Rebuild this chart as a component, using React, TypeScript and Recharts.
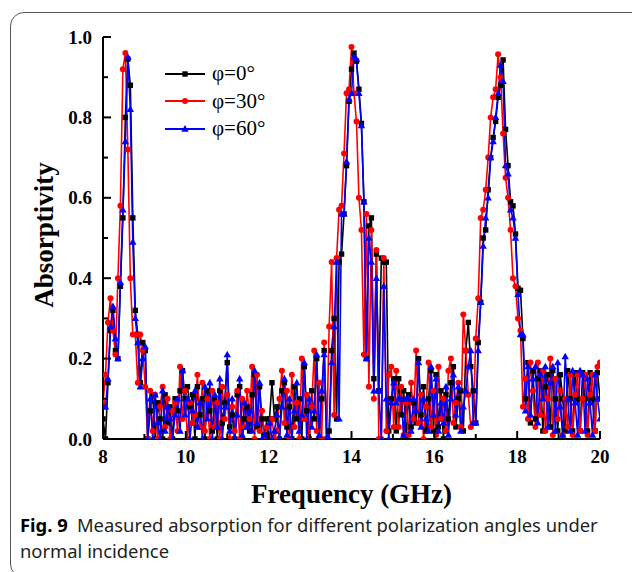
import React from 'react';
import { LineChart, Line, XAxis, YAxis, Legend } from 'recharts';

// Frequency grid (GHz): uniform sampling from 8 to 20 GHz
const FREQ_START = 8;
const FREQ_STEP = 0.06;

// Absorptivity, φ = 0°
const ABS_0 = [
  0.05, 0.00, 0.14, 0.27, 0.32, 0.22, 0.20, 0.38, 0.55, 0.80,
  0.945, 0.88, 0.55, 0.32, 0.26, 0.14, 0.24, 0.22, 0.00, 0.07,
  0.11, 0.00, 0.09, 0.05, 0.00, 0.11, 0.04, 0.08, 0.00, 0.10,
  0.07, 0.12, 0.17, 0.10, 0.13, 0.08, 0.11, 0.00, 0.13, 0.06,
  0.10, 0.00, 0.12, 0.07, 0.02, 0.10, 0.00, 0.12, 0.04, 0.09,
  0.19, 0.03, 0.06, 0.00, 0.11, 0.13, 0.00, 0.05, 0.08, 0.02,
  0.11, 0.16, 0.03, 0.13, 0.05, 0.01, 0.05, 0.05, 0.14, 0.05,
  0.08, 0.00, 0.12, 0.14, 0.03, 0.08, 0.00, 0.13, 0.05, 0.10,
  0.00, 0.18, 0.07, 0.00, 0.12, 0.05, 0.20, 0.00, 0.10, 0.22,
  0.00, 0.02, 0.22, 0.30, 0.05, 0.44, 0.46, 0.56, 0.68, 0.84,
  0.92, 0.96, 0.94, 0.87, 0.785, 0.59, 0.20, 0.53, 0.55, 0.15,
  0.46, 0.12, 0.45, 0.44, 0.44, 0.02, 0.10, 0.15, 0.02, 0.15,
  0.06, 0.12, 0.00, 0.11, 0.03, 0.09, 0.04, 0.20, 0.06, 0.13,
  0.02, 0.10, 0.17, 0.02, 0.16, 0.03, 0.12, 0.00, 0.11, 0.05,
  0.14, 0.18, 0.03, 0.10, 0.12, 0.02, 0.22, 0.29, 0.18, 0.12,
  0.04, 0.24, 0.34, 0.50, 0.52, 0.62, 0.70, 0.75, 0.79, 0.85,
  0.88, 0.943, 0.77, 0.68, 0.59, 0.58, 0.51, 0.375, 0.37, 0.25,
  0.10, 0.19, 0.04, 0.17, 0.05, 0.15, 0.17, 0.02, 0.13, 0.16,
  0.03, 0.17, 0.10, 0.02, 0.16, 0.10, 0.02, 0.17, 0.10, 0.02,
  0.165, 0.10, 0.02, 0.165, 0.10, 0.02, 0.165, 0.10, 0.02, 0.165,
  0.10,
];

// Absorptivity, φ = 30°
const ABS_30 = [
  0.09, 0.16, 0.29, 0.35, 0.27, 0.21, 0.40, 0.58, 0.92, 0.96,
  0.72, 0.40, 0.26, 0.26, 0.14, 0.26, 0.22, 0.13, 0.00, 0.12,
  0.02, 0.11, 0.00, 0.08, 0.13, 0.03, 0.10, 0.00, 0.07, 0.09,
  0.02, 0.18, 0.05, 0.12, 0.00, 0.09, 0.04, 0.06, 0.16, 0.03,
  0.14, 0.02, 0.10, 0.00, 0.12, 0.03, 0.09, 0.00, 0.13, 0.05,
  0.11, 0.00, 0.08, 0.02, 0.12, 0.00, 0.10, 0.03, 0.12, 0.05,
  0.18, 0.00, 0.16, 0.02, 0.07, 0.00, 0.03, 0.00, 0.05, 0.00,
  0.02, 0.10, 0.17, 0.04, 0.12, 0.00, 0.16, 0.03, 0.09, 0.00,
  0.20, 0.05, 0.11, 0.00, 0.08, 0.22, 0.02, 0.14, 0.00, 0.24,
  0.00, 0.28, 0.44, 0.06, 0.45, 0.57, 0.58, 0.71, 0.86, 0.87,
  0.975, 0.86, 0.79, 0.60, 0.52, 0.21, 0.56, 0.13, 0.52, 0.10,
  0.47, 0.00, 0.00, 0.45, 0.02, 0.16, 0.18, 0.03, 0.17, 0.03,
  0.13, 0.01, 0.09, 0.01, 0.14, 0.05, 0.22, 0.04, 0.11, 0.00,
  0.08, 0.19, 0.03, 0.12, 0.01, 0.18, 0.05, 0.10, 0.02, 0.17,
  0.20, 0.04, 0.09, 0.14, 0.03, 0.31, 0.22, 0.11, 0.03, 0.04,
  0.25, 0.35, 0.55, 0.57, 0.62, 0.70, 0.80, 0.85, 0.87, 0.957,
  0.90, 0.76, 0.65, 0.60, 0.52, 0.40, 0.38, 0.30, 0.27, 0.08,
  0.15, 0.05, 0.19, 0.12, 0.03, 0.19, 0.06, 0.17, 0.02, 0.10,
  0.20, 0.01, 0.15, 0.05, 0.12, 0.01, 0.10, 0.03, 0.16, 0.01,
  0.11, 0.16, 0.02, 0.10, 0.16, 0.01, 0.11, 0.16, 0.02, 0.18,
  0.19,
];

// Absorptivity, φ = 60°
const ABS_60 = [
  0.08, 0.08, 0.15, 0.28, 0.33, 0.25, 0.20, 0.39, 0.57, 0.74,
  0.95, 0.82, 0.49, 0.30, 0.24, 0.13, 0.20, 0.23, 0.00, 0.10,
  0.00, 0.11, 0.04, 0.00, 0.12, 0.02, 0.08, 0.05, 0.00, 0.06,
  0.10, 0.02, 0.17, 0.06, 0.10, 0.00, 0.07, 0.12, 0.03, 0.09,
  0.00, 0.13, 0.05, 0.14, 0.00, 0.11, 0.03, 0.15, 0.00, 0.08,
  0.21, 0.02, 0.10, 0.00, 0.06, 0.15, 0.01, 0.09, 0.03, 0.07,
  0.02, 0.17, 0.04, 0.14, 0.00, 0.01, 0.00, 0.04, 0.00, 0.02,
  0.06, 0.00, 0.08, 0.15, 0.01, 0.10, 0.00, 0.07, 0.14, 0.02,
  0.06, 0.19, 0.00, 0.10, 0.03, 0.07, 0.21, 0.01, 0.12, 0.21,
  0.00, 0.00, 0.19, 0.28, 0.44, 0.05, 0.56, 0.56, 0.69, 0.845,
  0.86, 0.95, 0.945, 0.86, 0.78, 0.59, 0.20, 0.50, 0.44, 0.12,
  0.40, 0.12, 0.00, 0.38, 0.10, 0.00, 0.09, 0.14, 0.09, 0.10,
  0.10, 0.01, 0.10, 0.10, 0.02, 0.10, 0.07, 0.19, 0.03, 0.10,
  0.05, 0.02, 0.18, 0.06, 0.15, 0.02, 0.09, 0.04, 0.13, 0.01,
  0.10, 0.16, 0.06, 0.13, 0.02, 0.08, 0.12, 0.18, 0.22, 0.04,
  0.04, 0.22, 0.34, 0.48, 0.55, 0.60, 0.70, 0.74, 0.80, 0.86,
  0.93, 0.89, 0.68, 0.66, 0.57, 0.55, 0.50, 0.36, 0.26, 0.26,
  0.07, 0.18, 0.06, 0.15, 0.18, 0.04, 0.16, 0.10, 0.18, 0.03,
  0.14, 0.18, 0.02, 0.19, 0.08, 0.01, 0.205, 0.10, 0.02, 0.17,
  0.09, 0.01, 0.17, 0.16, 0.02, 0.15, 0.09, 0.01, 0.16, 0.10,
  0.05,
];

const X_TICKS = [8, 9, 10, 11, 12, 13, 14, 15, 16, 17, 18, 19, 20];
const Y_TICKS = [0, 0.1, 0.2, 0.3, 0.4, 0.5, 0.6, 0.7, 0.8, 0.9, 1.0];
const SERIES_NAMES = ['φ=0°', 'φ=30°', 'φ=60°'];
const SERIES_COLORS = ['#000000', '#ff0000', '#0000ff'];

const data = ABS_0.map((v, i) => ({
  f: Number((FREQ_START + i * FREQ_STEP).toFixed(2)),
  a0: v,
  a30: ABS_30[i],
  a60: ABS_60[i],
}));

const SERIF = '"Liberation Serif", "Times New Roman", serif';

const SquareDot = (p: any) =>
  p.cx == null ? null : (
    <rect key={`s${p.index}`} x={p.cx - 2.7} y={p.cy - 2.7} width={5.4} height={5.4} fill={SERIES_COLORS[0]} />
  );
const CircleDot = (p: any) =>
  p.cx == null ? null : <circle key={`c${p.index}`} cx={p.cx} cy={p.cy} r={3} fill={SERIES_COLORS[1]} />;
const TriDot = (p: any) =>
  p.cx == null ? null : (
    <polygon
      key={`t${p.index}`}
      points={`${p.cx},${p.cy - 3.9} ${p.cx - 3.7},${p.cy + 2.7} ${p.cx + 3.7},${p.cy + 2.7}`}
      fill={SERIES_COLORS[2]}
    />
  );

const XTick = (p: any) => {
  const v = p.payload.value;
  const major = v % 2 === 0;
  return (
    <g>
      <line x1={p.x} x2={p.x} y1={p.y} y2={p.y - (major ? 8 : 5)} stroke="#000" strokeWidth={2} />
      {major && (
        <text x={p.x} y={p.y + 24} textAnchor="middle" fontFamily={SERIF} fontWeight="bold" fontSize={19} fill="#000">
          {v}
        </text>
      )}
    </g>
  );
};

const YTick = (p: any) => {
  const v = p.payload.value;
  const major = Math.round(v * 10) % 2 === 0;
  return (
    <g>
      <line x1={p.x} x2={p.x + (major ? 8 : 5)} y1={p.y} y2={p.y} stroke="#000" strokeWidth={2} />
      {major && (
        <text x={p.x - 11} y={p.y + 6.5} textAnchor="end" fontFamily={SERIF} fontWeight="bold" fontSize={19} fill="#000">
          {v.toFixed(1)}
        </text>
      )}
    </g>
  );
};

const XTitle = (props: any) => {
  const vb = props.viewBox;
  return (
    <text
      x={vb.x + vb.width / 2}
      y={vb.y + 64}
      textAnchor="middle"
      fontFamily={SERIF}
      fontWeight="bold"
      fontSize={27}
      fill="#000"
    >
      Frequency (GHz)
    </text>
  );
};

const YTitle = (props: any) => {
  const vb = props.viewBox;
  const cx = vb.x + 1;
  const cy = vb.y + vb.height / 2 - 3;
  return (
    <text
      x={cx}
      y={cy}
      transform={`rotate(-90, ${cx}, ${cy})`}
      textAnchor="middle"
      dominantBaseline="central"
      fontFamily={SERIF}
      fontWeight="bold"
      fontSize={27}
      fill="#000"
    >
      Absorptivity
    </text>
  );
};

const LegendMarker = ({ i }: { i: number }) => {
  const c = SERIES_COLORS[i];
  if (i === 0) return <rect x={17.3} y={3.3} width={5.4} height={5.4} fill={c} />;
  if (i === 1) return <circle cx={20} cy={6} r={3} fill={c} />;
  return <polygon points="20,2.1 16.3,8.7 23.7,8.7" fill={c} />;
};

const LegendContent = () => (
  <div style={{ fontFamily: SERIF, fontSize: 21, color: '#000' }}>
    {SERIES_NAMES.map((name, i) => (
      <div key={name} style={{ display: 'flex', alignItems: 'center', height: 27.5 }}>
        <svg width={40} height={12} style={{ display: 'block' }}>
          <line x1={0} x2={40} y1={6} y2={6} stroke={SERIES_COLORS[i]} strokeWidth={1.8} />
          <LegendMarker i={i} />
        </svg>
        <span style={{ marginLeft: 7, lineHeight: '27.5px' }}>{name}</span>
      </div>
    ))}
  </div>
);

export default function App() {
  return (
    <div style={{ position: 'absolute', left: 0, top: 0, width: 632, height: 572, background: '#fff', overflow: 'hidden' }}>
      <div
        style={{
          position: 'absolute',
          left: 10,
          top: 12,
          width: 640,
          height: 566,
          border: '1.5px solid #555',
          borderRadius: 14,
          boxSizing: 'border-box',
        }}
      />
      <div style={{ position: 'absolute', left: 0, top: 0 }}>
        <LineChart width={632} height={572} data={data} margin={{ top: 37, right: 32, bottom: 103, left: 43 }}>
          <XAxis
            dataKey="f"
            type="number"
            domain={[8, 20]}
            ticks={X_TICKS}
            interval={0}
            tickSize={0}
            tickMargin={0}
            tickLine={false}
            axisLine={{ stroke: '#000', strokeWidth: 2 }}
            height={30}
            tick={<XTick />}
            allowDataOverflow
            label={{ content: XTitle }}
          />
          <XAxis
            xAxisId="top"
            orientation="top"
            dataKey="f"
            type="number"
            domain={[8, 20]}
            tick={false}
            tickLine={false}
            axisLine={{ stroke: '#000', strokeWidth: 2 }}
            height={0}
          />
          <YAxis
            type="number"
            domain={[0, 1]}
            ticks={Y_TICKS}
            interval={0}
            width={60}
            tickSize={0}
            tickMargin={0}
            tickLine={false}
            axisLine={{ stroke: '#000', strokeWidth: 2 }}
            tick={<YTick />}
            allowDataOverflow
            label={{ content: YTitle }}
          />
          <YAxis
            yAxisId="right"
            orientation="right"
            type="number"
            domain={[0, 1]}
            tick={false}
            tickLine={false}
            axisLine={{ stroke: '#000', strokeWidth: 2 }}
            width={0}
          />
          <Legend
            content={LegendContent}
            layout="vertical"
            verticalAlign="middle"
            align="center"
            wrapperStyle={{ position: 'absolute', left: 165, top: 60, width: 120, height: 85 }}
          />
          <Line
            type="linear"
            dataKey="a0"
            name={SERIES_NAMES[0]}
            stroke={SERIES_COLORS[0]}
            strokeWidth={1.6}
            dot={SquareDot}
            activeDot={false}
            isAnimationActive={false}
          />
          <Line
            type="linear"
            dataKey="a30"
            name={SERIES_NAMES[1]}
            stroke={SERIES_COLORS[1]}
            strokeWidth={1.6}
            dot={CircleDot}
            activeDot={false}
            isAnimationActive={false}
          />
          <Line
            type="linear"
            dataKey="a60"
            name={SERIES_NAMES[2]}
            stroke={SERIES_COLORS[2]}
            strokeWidth={1.6}
            dot={TriDot}
            activeDot={false}
            isAnimationActive={false}
          />
        </LineChart>
      </div>
      <div
        style={{
          position: 'absolute',
          left: 20,
          top: 512,
          width: 610,
          fontFamily: '"Noto Sans", sans-serif',
          fontSize: 18.4,
          lineHeight: '26px',
          color: '#231f20',
          whiteSpace: 'nowrap',
        }}
      >
        <span style={{ fontWeight: 'bold', color: '#000' }}>Fig. 9</span>
        <span>{'\u2002'}Measured absorption for different polarization angles under</span>
        <br />
        <span>normal incidence</span>
      </div>
    </div>
  );
}
